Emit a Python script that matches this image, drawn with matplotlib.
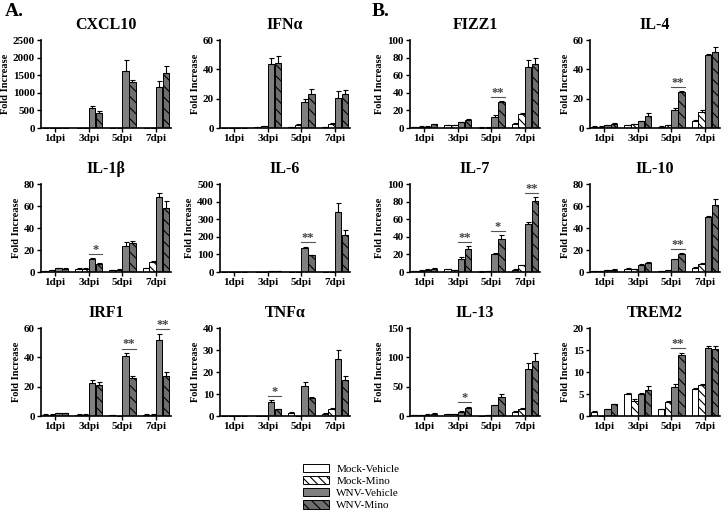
import matplotlib
matplotlib.use("Agg")
import matplotlib.pyplot as plt
from matplotlib.patches import Patch
import numpy as np

plt.rcParams["font.family"] = ["Liberation Serif", "DejaVu Serif"]
plt.rcParams["hatch.linewidth"] = 0.8

days = ["1dpi", "3dpi", "5dpi", "7dpi"]
groups = ["Mock-Vehicle", "Mock-Mino", "WNV-Vehicle", "WNV-Mino"]

# values per gene: rows = day, columns = group
cxcl10 = [[1, 1, 2, 2], [1, 1, 560, 440], [1, 1, 1620, 1300], [1, 1, 1170, 1560]]
cxcl10_err = [[0, 0, 0, 0], [0, 0, 60, 40], [0, 0, 300, 70], [0, 0, 170, 200]]
ifna = [[0.1, 0.1, 0.1, 0.1], [0.8, 1.2, 43.5, 44], [0.5, 2, 18, 23.5], [0.7, 3, 20.5, 23]]
ifna_err = [[0, 0, 0, 0], [0.2, 0.3, 4.5, 5], [0.2, 0.5, 1.5, 3], [0.2, 0.5, 4.5, 3]]
fizz1 = [[1, 1.5, 1.5, 4], [3, 3, 6.5, 9], [0.5, 0.5, 13, 29], [5, 16, 69, 73]]
fizz1_err = [[0.3, 0.3, 0.3, 0.8], [0.3, 0.5, 0.5, 1.2], [0.2, 0.2, 1.5, 1.5], [0.8, 1.5, 8, 7]]
il4 = [[1, 1, 2, 3], [2, 2.5, 4.5, 8], [1, 2, 12, 24.5], [4.5, 11, 50, 52]]
il4_err = [[0.2, 0.2, 0.3, 0.3], [0.2, 0.3, 0.5, 2], [0.2, 0.3, 1.5, 0.5], [1, 1.5, 0.5, 3]]
il1b = [[1, 1.5, 3.5, 3], [3, 3, 12, 7.5], [1.5, 2, 24, 26], [3.5, 9, 68.5, 58]]
il1b_err = [[0.2, 0.3, 0.5, 0.5], [0.3, 0.3, 0.5, 1], [0.2, 0.3, 3, 2], [0.5, 0.7, 3, 7]]
il6 = [[0.5, 0.5, 1, 1], [1, 1, 6, 6], [1, 1, 138, 95], [2, 2, 340, 210]]
il6_err = [[0, 0, 0, 0], [0, 0, 1, 1], [0, 0, 5, 3], [0, 0, 50, 30]]
il7 = [[1, 1.5, 2.5, 3.5], [3.5, 2.5, 14.5, 26.5], [0.5, 1, 20, 37.5], [2.5, 7.5, 55, 81]]
il7_err = [[0.2, 0.3, 0.5, 0.7], [0.3, 0.3, 2.5, 2.5], [0.2, 0.3, 2, 4], [0.5, 1, 2, 4]]
il10 = [[1, 0.5, 1.5, 2], [3, 2.5, 6.5, 8], [0.5, 1.5, 11.5, 16.5], [4, 7.5, 50, 61]]
il10_err = [[0.2, 0.1, 0.2, 0.3], [0.3, 0.3, 1, 1.5], [0.2, 0.3, 0.5, 0.5], [0.5, 1, 0.5, 5]]
irf1 = [[1, 1, 2, 2], [1, 1, 22.5, 21], [0.5, 0, 41, 26], [1, 1, 52, 27]]
irf1_err = [[0.2, 0.2, 0.3, 0.3], [0.2, 0.2, 2, 2], [0.2, 0, 2, 1], [0.2, 0.2, 4, 3]]
tnfa = [[0, 0, 0, 0], [0, 0, 6.5, 3], [1.5, 0, 13.5, 8], [1, 3, 26, 16.5]]
tnfa_err = [[0, 0, 0, 0], [0, 0, 0.7, 0.3], [0.2, 0, 2, 0.7], [0.2, 0.5, 4, 1.5]]
il13 = [[1, 1.5, 2.5, 4], [3, 3, 7, 13], [0.5, 1.5, 18, 32], [7, 12, 80, 93]]
il13_err = [[0.2, 0.2, 0.3, 0.5], [0.3, 0.3, 1, 3], [0.2, 0.3, 1, 6], [1, 1.5, 11, 14]]
trem2 = [[1, 0, 1.6, 2.7], [5, 3.5, 5, 6], [1.5, 3.1, 6.7, 13.8], [6.2, 7, 15.4, 15.3]]
trem2_err = [[0.1, 0, 0.1, 0.1], [0.3, 0.3, 0.3, 0.8], [0.2, 0.2, 0.5, 0.6], [0.2, 0.2, 0.5, 0.5]]

# (title, values, errors, ymax, ystep, significance {day index: stars})
panels = [
    ("CXCL10", cxcl10, cxcl10_err, 2500, 500, {}),
    ("IFN\u03b1", ifna, ifna_err, 60, 20, {}),
    ("FIZZ1", fizz1, fizz1_err, 100, 20, {2: "**"}),
    ("IL-4", il4, il4_err, 60, 20, {2: "**"}),
    ("IL-1\u03b2", il1b, il1b_err, 80, 20, {1: "*"}),
    ("IL-6", il6, il6_err, 500, 100, {2: "**"}),
    ("IL-7", il7, il7_err, 100, 20, {1: "**", 2: "*", 3: "**"}),
    ("IL-10", il10, il10_err, 80, 20, {2: "**"}),
    ("IRF1", irf1, irf1_err, 60, 20, {2: "**", 3: "**"}),
    ("TNF\u03b1", tnfa, tnfa_err, 40, 10, {1: "*"}),
    ("IL-13", il13, il13_err, 150, 50, {1: "*"}),
    ("TREM2", trem2, trem2_err, 20, 5, {2: "**"}),
]

styles = [
    dict(facecolor="white", hatch=None),
    dict(facecolor="white", hatch="\\\\\\\\"),
    dict(facecolor="#808080", hatch=None),
    dict(facecolor="#6e6e6e", hatch="\\\\\\"),
]

W, H = 722, 513
fig = plt.figure(figsize=(W / 100, H / 100), dpi=100)

col_x = [41, 220, 410, 590]
col_w = 130
row_top = [40, 184, 328]
row_h = 88

bw = 0.19
offsets = (np.arange(4) - 1.5) * 0.2
x = np.arange(len(days))

for i, (title, vals, errs, ymax, ystep, sig) in enumerate(panels):
    r, c = divmod(i, 4)
    ax = fig.add_axes([col_x[c] / W, 1 - (row_top[r] + row_h) / H, col_w / W, row_h / H])
    vals = np.array(vals, dtype=float)
    errs = np.array(errs, dtype=float)
    for g in range(4):
        ax.bar(x + offsets[g], vals[:, g], width=bw, edgecolor="black",
               linewidth=0.7, zorder=2, **styles[g])
        ax.errorbar(x + offsets[g], vals[:, g],
                    yerr=[np.zeros(len(days)), errs[:, g]], fmt="none",
                    ecolor="black", elinewidth=0.8, capsize=1.8, capthick=0.8, zorder=3)
    for d, stars in sig.items():
        top = max(vals[d, 2] + errs[d, 2], vals[d, 3] + errs[d, 3])
        yl = top + ymax * 0.05
        ax.plot([x[d] + offsets[2] - bw / 2, x[d] + offsets[3] + bw / 2], [yl, yl],
                color="#555555", linewidth=0.8, clip_on=False)
        ax.text(x[d] + (offsets[2] + offsets[3]) / 2, yl - ymax * 0.02, stars,
                ha="center", va="bottom", fontsize=9, fontweight="bold", color="#444444")
    ax.set_xlim(-0.42, 3.45)
    ax.set_ylim(0, ymax)
    ax.set_yticks(np.arange(0, ymax + ystep / 2, ystep))
    ax.set_xticks(x)
    ax.set_xticklabels(days)
    ax.spines["top"].set_visible(False)
    ax.spines["right"].set_visible(False)
    ax.spines["left"].set_linewidth(1.2)
    ax.spines["bottom"].set_linewidth(1.2)
    ax.tick_params(axis="both", length=3, width=1.0, pad=1.5)
    for lab in ax.get_xticklabels() + ax.get_yticklabels():
        lab.set_fontweight("bold")
        lab.set_fontsize(8)
    ax.set_ylabel("Fold Increase", fontsize=7.5, fontweight="bold", labelpad=2)
    ax.set_title(title, fontsize=11.5, fontweight="bold", pad=8)

fig.text(5 / W, 1 - 3 / H, "A.", fontsize=14, fontweight="bold", va="top")
fig.text(372 / W, 1 - 3 / H, "B.", fontsize=14, fontweight="bold", va="top")

handles = [Patch(edgecolor="black", linewidth=0.7, **s) for s in styles]
fig.legend(handles, groups, loc="upper left", bbox_to_anchor=(303 / W, 1 - 464 / H),
           frameon=False, fontsize=8, handlelength=2.3, handleheight=0.75,
           labelspacing=0.2, handletextpad=0.7, borderaxespad=0, borderpad=0)

fig.savefig("out.png", dpi=100)
